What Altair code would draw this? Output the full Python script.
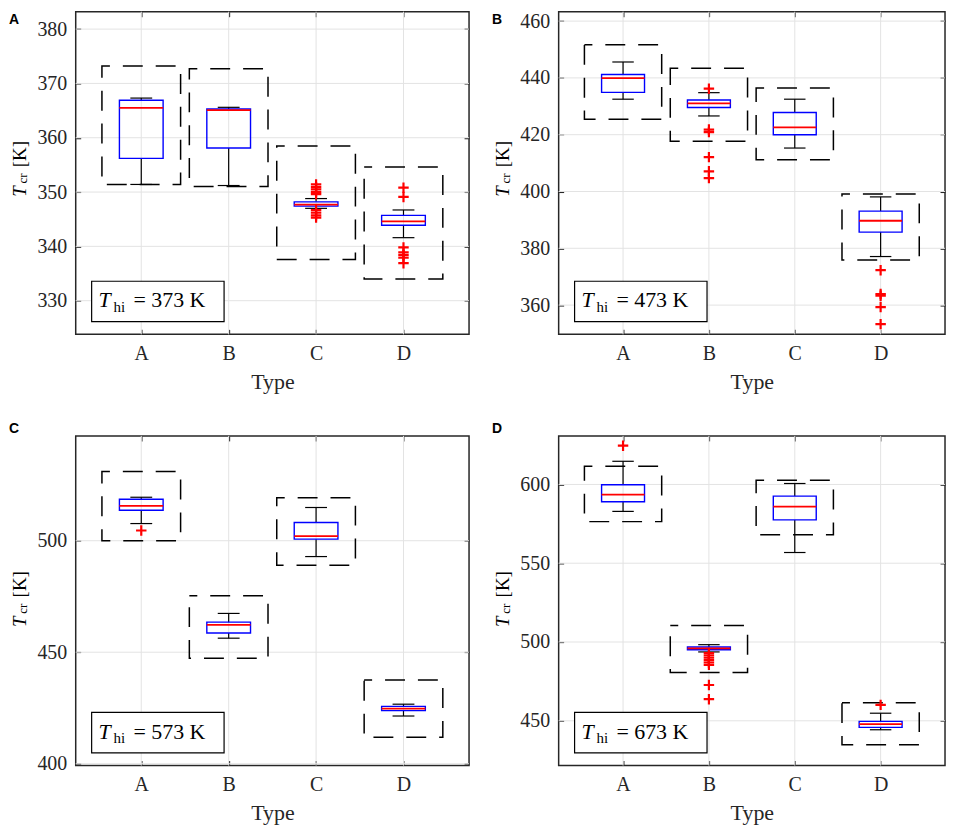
import altair as alt
import pandas as pd

types = ["A", "B", "C", "D"]
panel_letters = ["A", "B", "C", "D"]
t_hi = [373, 473, 573, 673]

# ---- panel A : T_hi = 373 K
a_q1 = [356.2, 358.1, 347.4, 343.9]
a_med = [365.5, 365.1, 347.7, 344.6]
a_q3 = [366.9, 365.3, 348.2, 345.7]
a_wlo = [351.4, 351.2, 347.0, 341.6]
a_whi = [367.3, 365.6, 348.8, 346.7]
a_rlo = [351.4, 351.0, 337.6, 334.0]
a_rhi = [373.2, 372.7, 358.5, 354.6]
a_out_type = ["C"] * 9 + ["D"] * 7
a_out_val = [351.4, 350.9, 350.5, 350.0, 349.6, 346.7, 346.2, 345.7, 345.3,
             350.8, 349.1, 339.8, 338.9, 338.4, 337.9, 336.9]
a_yticks = [330, 340, 350, 360, 370, 380]
a_ydom = [323.8, 383.2]

# ---- panel B : T_hi = 473 K
b_q1 = [434.9, 429.6, 420.0, 385.7]
b_med = [439.9, 431.0, 422.6, 389.7]
b_q3 = [441.2, 432.2, 427.8, 393.1]
b_wlo = [432.5, 426.6, 415.3, 377.1]
b_whi = [445.6, 434.8, 432.5, 398.1]
b_rlo = [425.4, 417.7, 411.2, 375.9]
b_rhi = [451.7, 443.4, 436.4, 399.1]
b_out_type = ["B"] * 6 + ["D"] * 5
b_out_val = [436.2, 421.8, 420.9, 412.1, 407.1, 404.7,
             372.3, 363.9, 363.3, 359.3, 353.3]
b_yticks = [360, 380, 400, 420, 440, 460]
b_ydom = [349.7, 463.3]

# ---- panel C : T_hi = 573 K
c_q1 = [513.7, 458.6, 500.7, 423.8]
c_med = [515.6, 462.3, 502.1, 424.7]
c_q3 = [518.6, 463.5, 508.2, 425.7]
c_wlo = [507.7, 456.3, 492.9, 421.4]
c_whi = [519.5, 467.4, 514.9, 426.7]
c_rlo = [500.0, 447.3, 489.0, 411.9]
c_rhi = [531.0, 475.3, 519.3, 437.5]
c_out_type = ["A"]
c_out_val = [504.6]
c_yticks = [400, 450, 500]
c_ydom = [399.2, 547.0]

# ---- panel D : T_hi = 673 K
d_q1 = [589.0, 495.1, 577.5, 445.8]
d_med = [593.5, 496.0, 585.9, 447.9]
d_q3 = [599.8, 496.8, 592.6, 449.6]
d_wlo = [582.9, 493.7, 556.8, 444.3]
d_whi = [614.7, 498.3, 600.6, 454.8]
d_rlo = [576.4, 480.6, 568.0, 434.8]
d_rhi = [611.6, 510.5, 602.7, 461.4]
d_out_type = ["A"] + ["B"] * 8 + ["D"]
d_out_val = [624.6, 493.0, 491.5, 490.0, 488.5, 487.0, 485.5, 472.7, 463.7, 460.1]
d_yticks = [450, 500, 550, 600]
d_ydom = [421.6, 630.8]

FRAME = "#262626"
GRID = "#e3e3e3"
SERIF = "Liberation Serif"
PLUS = "M-1,0L1,0M0,-1L0,1"


def panel(letter, thi, q1, med, q3, wlo, whi, rlo, rhi, out_t, out_v,
          yticks, ydom, w, h, top):
    box = pd.DataFrame(dict(type=types, pos=[i + 1 for i in range(len(types))],
                            q1=q1, med=med, q3=q3, wlo=wlo, whi=whi,
                            rlo=rlo, rhi=rhi))
    out = pd.DataFrame(dict(type=out_t, v=out_v))
    out["pos"] = out["type"].map({t: i + 1 for i, t in enumerate(types)})
    yt = pd.DataFrame(dict(v=yticks))
    xt = pd.DataFrame(dict(v=[i + 1 for i in range(len(types))]))
    one = pd.DataFrame(dict(k=[0]))

    xs = alt.Scale(domain=[0.25, 4.75], nice=False, zero=False)
    ys = alt.Scale(domain=ydom, nice=False, zero=False)

    def X(f, axis=None):
        return alt.X(f, type="quantitative", scale=xs, axis=axis)

    def Y(f, axis=None):
        return alt.Y(f, type="quantitative", scale=ys, axis=axis)

    grid_y = alt.Chart(yt).mark_rule(color=GRID, strokeWidth=1).encode(
        y=Y("v", alt.Axis(orient="right", values=yticks, labels=False, title=None,
                          tickSize=5, offset=-5, domain=False, grid=False)))
    grid_x = alt.Chart(xt).mark_rule(color=GRID, strokeWidth=1).encode(
        x=X("v", alt.Axis(orient="top", values=[1, 2, 3, 4], labels=False, title=None,
                          tickSize=5, offset=-5, domain=False, grid=False)))

    base = alt.Chart(box).transform_calculate(
        r1="datum.pos - 0.45", r2="datum.pos + 0.45",
        b1="datum.pos - 0.25", b2="datum.pos + 0.25",
        c1="datum.pos - 0.125", c2="datum.pos + 0.125")

    dashed = base.mark_rect(fillOpacity=0, stroke="black", strokeWidth=1.5,
                            strokeDash=[20, 13], strokeDashOffset=12).encode(
        x=X("r1:Q"), x2="r2:Q", y=Y("rlo:Q"), y2="rhi:Q")
    wh_up = base.mark_rule(color="black", strokeWidth=1.2).encode(
        x=X("pos:Q"), y=Y("q3:Q"), y2="whi:Q")
    wh_lo = base.mark_rule(color="black", strokeWidth=1.2).encode(
        x=X("pos:Q"), y=Y("q1:Q"), y2="wlo:Q")
    cap_up = base.mark_rule(color="black", strokeWidth=1.2).encode(
        x=X("c1:Q"), x2="c2:Q", y=Y("whi:Q"))
    cap_lo = base.mark_rule(color="black", strokeWidth=1.2).encode(
        x=X("c1:Q"), x2="c2:Q", y=Y("wlo:Q"))
    boxes = base.mark_rect(fillOpacity=0, stroke="#0000ff", strokeWidth=1.4).encode(
        x=X("b1:Q", alt.Axis(orient="bottom", values=[1, 2, 3, 4],
                             labelExpr="['A','B','C','D'][datum.value - 1]",
                             tickSize=5, offset=-5, domain=False, grid=False,
                             labelPadding=9, title="Type", titlePadding=8)),
        x2="b2:Q",
        y=Y("q1:Q", alt.Axis(orient="left", values=yticks, format="d",
                             tickSize=5, offset=-5, domain=False, grid=False,
                             labelPadding=9, title=None)),
        y2="q3:Q")
    medians = base.mark_rule(color="#ff0000", strokeWidth=1.8).encode(
        x=X("b1:Q"), x2="b2:Q", y=Y("med:Q"))
    outliers = alt.Chart(out).mark_point(shape=PLUS, size=110, filled=False,
                                         stroke="#ff0000", strokeWidth=2.2,
                                         opacity=1).encode(
        x=X("pos:Q"), y=Y("v:Q"))

    annot_box = alt.Chart(one).mark_rect(fill="white", stroke="black",
                                         strokeWidth=1.2).encode(
        x=alt.value(16), x2=alt.value(149),
        y=alt.value(h - 53.3), y2=alt.value(h - 12.7))
    annot_T = alt.Chart(one).mark_text(text="T", font=SERIF, fontSize=22,
                                       fontStyle="italic", align="left",
                                       baseline="alphabetic", color="black").encode(
        x=alt.value(23), y=alt.value(h - 27))
    annot_hi = alt.Chart(one).mark_text(text="hi", font=SERIF, fontSize=15,
                                        align="left", baseline="alphabetic",
                                        color="black").encode(
        x=alt.value(38), y=alt.value(h - 22.5))
    annot_rest = alt.Chart(one).mark_text(text=f"= {thi} K", font=SERIF, fontSize=22,
                                          align="left", baseline="alphabetic",
                                          color="black").encode(
        x=alt.value(58), y=alt.value(h - 27))

    letter_txt = alt.Chart(one).mark_text(text=letter, font="Liberation Sans",
                                          fontWeight="bold", fontSize=14,
                                          align="left", baseline="alphabetic",
                                          color="black").encode(
        x=alt.value(-67), y=alt.value(12 if top else -3))

    c = 159.5 if top else h / 2
    yt_T = alt.Chart(one).mark_text(text="T", font=SERIF, fontSize=19, fontStyle="italic",
                                    angle=270, align="center", baseline="alphabetic",
                                    color="black").encode(
        x=alt.value(-50), y=alt.value(c + 21))
    yt_cr = alt.Chart(one).mark_text(text="cr", font=SERIF, fontSize=13,
                                     angle=270, align="center", baseline="alphabetic",
                                     color="black").encode(
        x=alt.value(-48.5), y=alt.value(c + 8))
    yt_K = alt.Chart(one).mark_text(text="[K]", font=SERIF, fontSize=19,
                                    angle=270, align="center", baseline="alphabetic",
                                    color="black").encode(
        x=alt.value(-50), y=alt.value(c - 16.5))

    return alt.layer(grid_y, grid_x, dashed, wh_up, wh_lo, cap_up, cap_lo,
                     boxes, medians, outliers, annot_box, annot_T, annot_hi,
                     annot_rest, letter_txt, yt_T, yt_cr, yt_K).resolve_axis(
        x="independent", y="independent").properties(width=w, height=h)


pA = panel(panel_letters[0], t_hi[0], a_q1, a_med, a_q3, a_wlo, a_whi, a_rlo, a_rhi,
           a_out_type, a_out_val, a_yticks, a_ydom, 395, 324, True)
pB = panel(panel_letters[1], t_hi[1], b_q1, b_med, b_q3, b_wlo, b_whi, b_rlo, b_rhi,
           b_out_type, b_out_val, b_yticks, b_ydom, 388, 324, True)
pC = panel(panel_letters[2], t_hi[2], c_q1, c_med, c_q3, c_wlo, c_whi, c_rlo, c_rhi,
           c_out_type, c_out_val, c_yticks, c_ydom, 395, 331, False)
pD = panel(panel_letters[3], t_hi[3], d_q1, d_med, d_q3, d_wlo, d_whi, d_rlo, d_rhi,
           d_out_type, d_out_val, d_yticks, d_ydom, 388, 331, False)

chart = alt.concat(pA, pB, pC, pD, columns=2,
                   spacing={"row": 102, "column": 90}, bounds="flush").properties(
    padding={"left": 0, "top": 0, "right": 2, "bottom": 0}
).configure_view(
    stroke=FRAME, strokeWidth=1.5
).configure_axis(
    labelFont=SERIF, labelFontSize=20, labelColor=FRAME,
    titleFont=SERIF, titleFontSize=22, titleFontWeight="normal", titleColor=FRAME,
    tickColor=FRAME, tickWidth=1.2
)

chart.save("out.html", embed_options={"renderer": "svg", "actions": False})
